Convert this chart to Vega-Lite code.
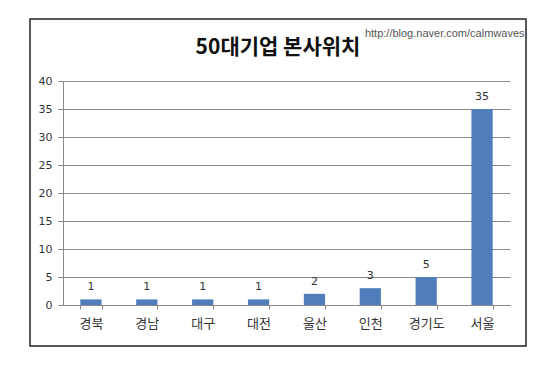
{
  "$schema": "https://vega.github.io/schema/vega-lite/v6.json",
  "width": 496,
  "height": 327,
  "autosize": {"type": "none"},
  "padding": {"left": 30, "top": 19, "right": 20, "bottom": 20},
  "background": "white",
  "title": {
    "text": "50대기업 본사위치",
    "font": "Noto Sans CJK KR",
    "fontSize": 21,
    "fontWeight": "bold",
    "color": "#111111",
    "anchor": "middle",
    "offset": -39
  },
  "data": {
    "values": [
      {"region": "경북", "count": 1},
      {"region": "경남", "count": 1},
      {"region": "대구", "count": 1},
      {"region": "대전", "count": 1},
      {"region": "울산", "count": 2},
      {"region": "인천", "count": 3},
      {"region": "경기도", "count": 5},
      {"region": "서울", "count": 35}
    ]
  },
  "encoding": {
    "x": {
      "field": "region",
      "type": "nominal",
      "sort": null,
      "scale": {"range": [33, 480], "paddingInner": 0.62, "paddingOuter": 0.31},
      "axis": {
        "title": "http://blog.naver.com/calmwaves",
        "titleFont": "Liberation Sans",
        "titleFontSize": 11,
        "titleFontWeight": "normal",
        "titleColor": "#555555",
        "titleAlign": "right",
        "titleAnchor": null,
        "titleX": 494,
        "titleY": -272,
        "titleBaseline": "middle",
        "titleAngle": 0,
        "offset": -41,
        "labelAngle": 0,
        "labelFont": "Noto Sans CJK KR",
        "labelFontSize": 13,
        "labelColor": "#333333",
        "labelPadding": 8,
        "tickBand": "extent",
        "tickSize": 4,
        "tickColor": "#888888",
        "domainColor": "#888888",
        "grid": false
      }
    },
    "y": {
      "field": "count",
      "type": "quantitative",
      "scale": {"domain": [0, 40], "nice": false, "range": [286, 62]},
      "axis": {
        "title": null,
        "offset": -33,
        "values": [0, 5, 10, 15, 20, 25, 30, 35, 40],
        "labelFont": "DejaVu Sans",
        "labelFontSize": 11,
        "labelColor": "#333333",
        "labelPadding": 6,
        "tickSize": 5,
        "tickColor": "#888888",
        "domainColor": "#888888",
        "grid": true,
        "gridColor": "#8a8a8a",
        "gridWidth": 1
      }
    }
  },
  "layer": [
    {"mark": {"type": "bar", "color": "#4F7EBB"}},
    {
      "mark": {
        "type": "text",
        "baseline": "bottom",
        "dy": -7,
        "font": "DejaVu Sans",
        "fontSize": 11,
        "color": "#333333"
      },
      "encoding": {"text": {"field": "count", "type": "quantitative"}}
    }
  ],
  "config": {
    "view": {"stroke": "#222222", "strokeWidth": 1.5}
  }
}
